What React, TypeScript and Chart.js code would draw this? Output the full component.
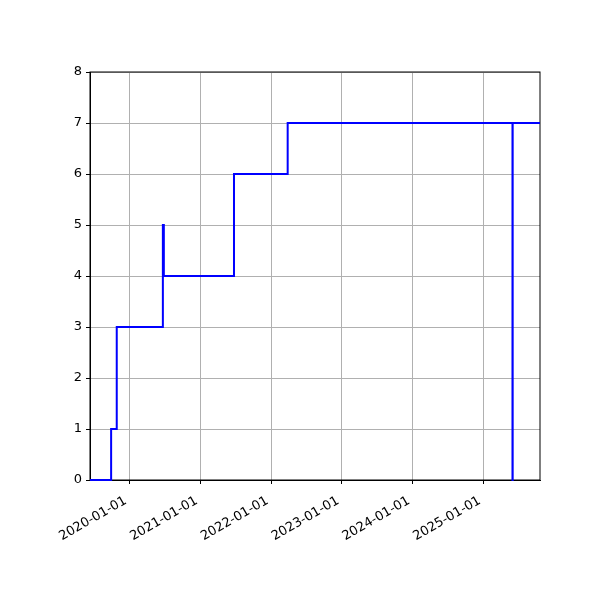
import { useEffect, useRef } from 'react';
import { Chart, registerables } from 'chart.js';

Chart.register(...registerables);

// step points (value holds until the next date)
const dates = [
  '2019-06-12',
  '2019-09-29',
  '2019-10-28',
  '2020-06-22',
  '2020-06-27',
  '2021-06-24',
  '2022-03-28',
  '2025-05-31',
  '2025-06-01',
  '2025-10-20',
];
const counts = [0, 1, 3, 5, 4, 6, 7, 0, 7, 7];
const tickYears = [2020, 2021, 2022, 2023, 2024, 2025];
const yTicks = [0, 1, 2, 3, 4, 5, 6, 7, 8];

const toMs = (d: string) => Date.parse(d + 'T00:00:00Z');

// top/right spines, drawn under the line
const frame = {
  id: 'frame',
  beforeDatasetsDraw(chart: Chart) {
    const { ctx, chartArea: a } = chart;
    ctx.save();
    ctx.strokeStyle = '#000';
    ctx.lineWidth = 1;
    ctx.strokeRect(a.left, a.top, a.right - a.left, a.bottom - a.top);
    ctx.restore();
  },
};

export default function App() {
  const canvasRef = useRef<HTMLCanvasElement | null>(null);
  const chartRef = useRef<Chart | null>(null);

  useEffect(() => {
    const ctx = canvasRef.current?.getContext('2d');
    if (!ctx) return;
    if (chartRef.current) chartRef.current.destroy();

    const font = { family: 'DejaVu Sans', size: 13 };

    chartRef.current = new Chart(ctx, {
      type: 'line',
      data: {
        datasets: [
          {
            data: dates.map((d, i) => ({ x: toMs(d), y: counts[i] })),
            borderColor: '#0000ff',
            borderWidth: 2,
            pointRadius: 0,
            stepped: true,
            fill: false,
            clip: 2,
          },
        ],
      },
      options: {
        animation: false,
        responsive: true,
        maintainAspectRatio: false,
        layout: { padding: { top: 72, right: 60, left: 0, bottom: 0 } },
        plugins: { legend: { display: false }, tooltip: { enabled: false } },
        scales: {
          x: {
            type: 'linear',
            min: toMs(dates[0]),
            max: toMs(dates[dates.length - 1]),
            afterBuildTicks: (scale: any) => {
              scale.ticks = tickYears.map((y) => ({ value: Date.UTC(y, 0, 1) }));
            },
            afterFit: (scale: any) => {
              scale.height = 120;
            },
            ticks: {
              autoSkip: false,
              minRotation: 30,
              maxRotation: 30,
              color: '#000',
              font,
              padding: 7,
              // trailing space nudges the rotated label down-left, like matplotlib
              callback: (v: any) => new Date(v).toISOString().slice(0, 10) + ' ',
            },
            grid: { color: '#b0b0b0', lineWidth: 1, tickColor: '#000', tickLength: 4 },
            border: { display: true, color: '#000', width: 1 },
          },
          y: {
            min: 0,
            max: 8,
            afterBuildTicks: (scale: any) => {
              scale.ticks = yTicks.map((v) => ({ value: v }));
            },
            afterFit: (scale: any) => {
              scale.width = 90;
            },
            ticks: { color: '#000', font, padding: 4 },
            grid: { color: '#b0b0b0', lineWidth: 1, tickColor: '#000', tickLength: 4 },
            border: { display: true, color: '#000', width: 1 },
          },
        },
      },
      plugins: [frame],
    });

    return () => {
      if (chartRef.current) chartRef.current.destroy();
    };
  }, []);

  return (
    <div style={{ position: 'fixed', left: 0, top: 0, width: 600, height: 600, background: '#fff' }}>
      <canvas ref={canvasRef}></canvas>
    </div>
  );
}
